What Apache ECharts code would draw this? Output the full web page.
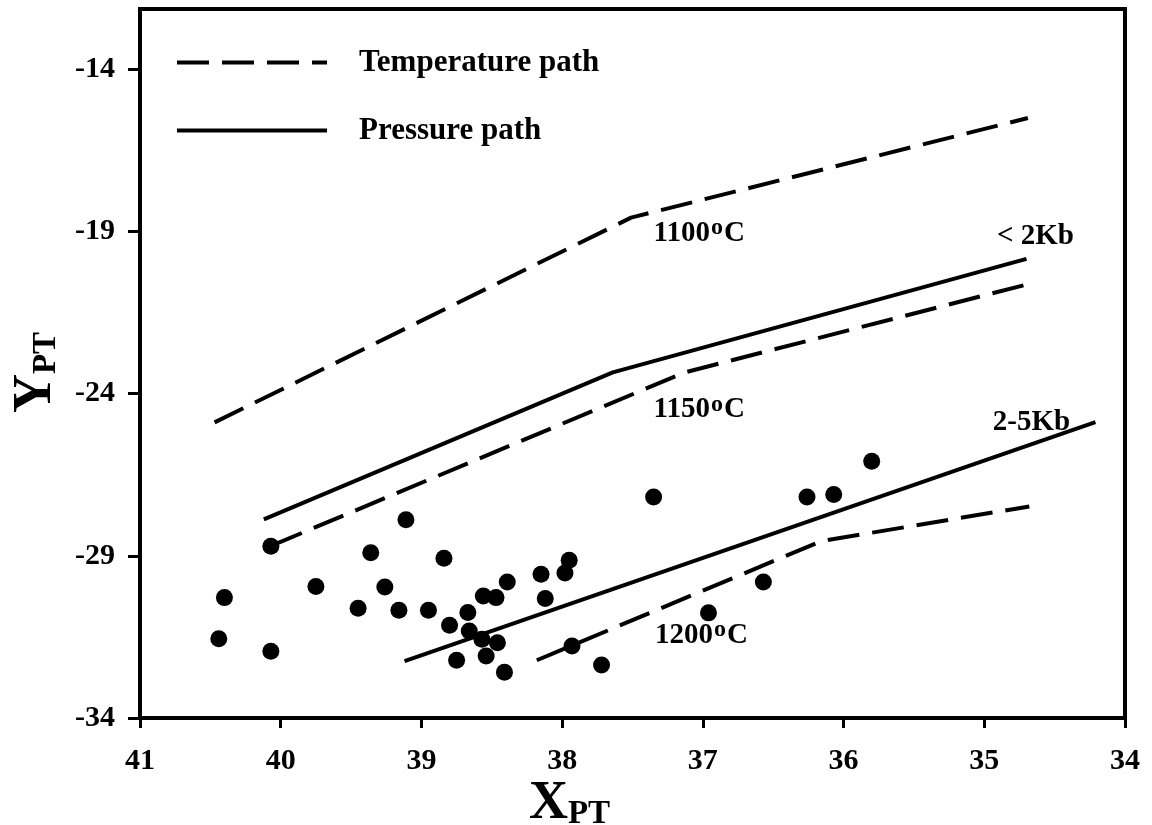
<!DOCTYPE html>
<html>
<head>
<meta charset="utf-8">
<script src="https://cdn.jsdelivr.net/npm/echarts@6/dist/echarts.min.js"></script>
<style>
html, body { margin: 0; padding: 0; background: #fff; }
#main { width: 1152px; height: 825px; }
</style>
</head>
<body>
<div id="main"></div>
<script>
// axis ticks
var xTicks = [41, 40, 39, 38, 37, 36, 35, 34];
var yTicks = [-34, -29, -24, -19, -14];

// sample points [X_PT, Y_PT]
var samples = [
    [40.44, -31.56], [40.40, -30.29], [40.07, -31.94], [40.07, -28.71],
    [39.75, -29.95], [39.45, -30.62], [39.36, -28.91], [39.26, -29.96],
    [39.16, -30.68], [39.11, -27.89], [38.95, -30.68], [38.84, -29.08],
    [38.80, -31.14], [38.75, -32.22], [38.67, -30.75], [38.66, -31.32],
    [38.56, -30.24], [38.57, -31.57], [38.54, -32.09], [38.47, -30.29],
    [38.46, -31.68], [38.41, -32.59], [38.39, -29.81], [38.15, -29.57],
    [38.12, -30.32], [37.98, -29.53], [37.95, -29.14], [37.93, -31.78],
    [37.72, -32.37], [37.35, -27.19], [36.96, -30.76], [36.57, -29.81],
    [36.26, -27.19], [36.07, -27.11], [35.80, -26.09]
];

// temperature paths (dashed)
var temp1100 = [[40.47, -24.89], [37.51, -18.58], [34.69, -15.51]];
var temp1150 = [[40.06, -28.68], [37.13, -23.35], [34.68, -20.62]];
var temp1200 = [[38.18, -32.22], [36.16, -28.55], [34.68, -27.48]];

// pressure paths (solid)
var press2kb = [[40.12, -27.88], [37.64, -23.35], [34.70, -19.85]];
var press25kb = [[39.12, -32.25], [34.21, -24.88]];

// path labels
var pathLabels = ['1100{o|o}C', '< 2Kb', '1150{o|o}C', '2-5Kb', '1200{o|o}C'];
var pathLabelPos = [[37.35, -19.06], [34.91, -19.17], [37.35, -24.49], [34.94, -24.89], [37.34, -31.45]];

var FONT = '"Liberation Serif", "Times New Roman", serif';

var chart = echarts.init(document.getElementById('main'));

var tempStyle = { color: '#000', width: 4, type: [32, 13], opacity: 1 };
var pressStyle = { color: '#000', width: 4, type: 'solid', opacity: 1 };

function pathSeries(name, data, style) {
    return {
        name: name,
        type: 'line',
        data: data,
        symbol: 'none',
        silent: true,
        lineStyle: style,
        itemStyle: { color: '#000' },
        z: 2
    };
}

var labelData = pathLabelPos.map(function (p, i) {
    return { value: p, text: pathLabels[i] };
});

// subscript rich styles for axis names
var nameRich = {
    a: { fontFamily: FONT, fontWeight: 'bold', fontSize: 54, color: '#000', lineHeight: 54 },
    b: { fontFamily: FONT, fontWeight: 'bold', fontSize: 33, color: '#000', verticalAlign: 'bottom', lineHeight: 38 }
};

var option = {
    backgroundColor: '#fff',
    animation: false,
    grid: {
        left: 140, right: 27, top: 9, bottom: 107,
        containLabel: false,
        outerBoundsMode: 'none',
        show: true, borderColor: '#000', borderWidth: 4
    },
    legend: {
        orient: 'vertical',
        left: 170,
        top: 42,
        itemWidth: 150,
        itemHeight: 28,
        itemGap: 37,
        selectedMode: false,
        itemStyle: { color: 'rgba(0,0,0,0)', borderWidth: 0, opacity: 0 },
        data: [
            { name: 'Temperature path', lineStyle: tempStyle },
            { name: 'Pressure path', lineStyle: pressStyle }
        ],
        textStyle: {
            fontFamily: FONT, fontWeight: 'bold', fontSize: 31, color: '#000',
            padding: [0, 0, 0, 27]
        }
    },
    xAxis: {
        type: 'value',
        min: 34, max: 41, interval: 1,
        inverse: true,
        name: '{a|X}{b|PT}',
        nameLocation: 'middle',
        nameGap: 59,
        nameMoveOverlap: false,
        nameTextStyle: {
            padding: [0, 126, 0, 0],
            rich: nameRich
        },
        axisLine: { onZero: false, lineStyle: { color: '#000', width: 4 } },
        axisTick: { show: true, inside: false, length: 10, lineStyle: { color: '#000', width: 3 } },
        axisLabel: {
            margin: 28,
            fontFamily: FONT, fontWeight: 'bold', fontSize: 30, color: '#000',
            formatter: function (v) { return xTicks.indexOf(v) >= 0 ? String(v) : ''; }
        },
        splitLine: { show: false }
    },
    yAxis: {
        type: 'value',
        min: -34, max: -12.15,
        name: '{a|Y}{b|PT}',
        nameLocation: 'middle',
        nameRotate: 90,
        nameGap: 77,
        nameTextStyle: {
            padding: [0, 18, 0, 0],
            rich: nameRich
        },
        axisLine: { onZero: false, lineStyle: { color: '#000', width: 4 } },
        axisTick: { show: true, inside: false, length: 12, customValues: yTicks, lineStyle: { color: '#000', width: 3 } },
        axisLabel: {
            margin: 25,
            customValues: yTicks,
            fontFamily: FONT, fontWeight: 'bold', fontSize: 30, color: '#000'
        },
        splitLine: { show: false }
    },
    series: [
        pathSeries('Temperature path', temp1100, tempStyle),
        pathSeries('Temperature path', temp1150, tempStyle),
        pathSeries('Temperature path', temp1200, tempStyle),
        pathSeries('Pressure path', press2kb, pressStyle),
        pathSeries('Pressure path', press25kb, pressStyle),
        {
            name: 'samples',
            type: 'scatter',
            data: samples,
            symbol: 'circle',
            symbolSize: 17,
            itemStyle: { color: '#000', opacity: 1 },
            silent: true,
            z: 3
        },
        {
            name: 'labels',
            type: 'scatter',
            data: labelData,
            symbolSize: 0,
            silent: true,
            itemStyle: { color: '#000', opacity: 1 },
            label: {
                show: true,
                position: [0, 0],
                align: 'left',
                verticalAlign: 'middle',
                lineHeight: 30,
                fontFamily: FONT, fontWeight: 'bold', fontSize: 29, color: '#000',
                formatter: function (p) { return p.data.text; },
                rich: {
                    o: {
                        fontFamily: FONT, fontWeight: 'bold', fontSize: 24, color: '#000',
                        lineHeight: 17, padding: [0, 1, 10, 1]
                    }
                }
            },
            z: 4
        }
    ]
};

chart.setOption(option);
</script>
</body>
</html>
